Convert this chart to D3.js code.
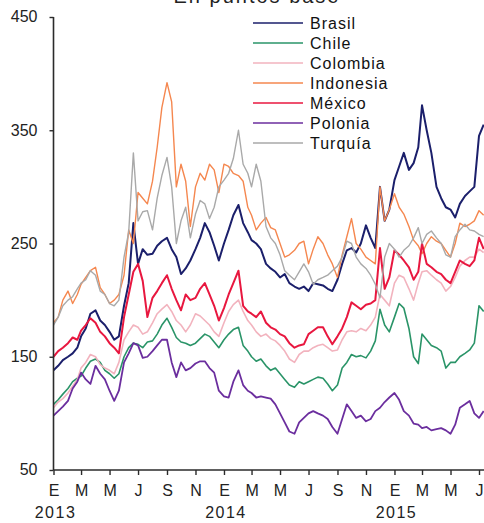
<!DOCTYPE html>
<html><head><meta charset="utf-8">
<script src="https://cdn.jsdelivr.net/npm/d3@7"></script>
<style>
html,body{margin:0;padding:0;background:#fff;}
svg{display:block;font-family:"Liberation Sans",Arial,sans-serif;}
</style></head>
<body><svg id="chart" width="484" height="523"></svg>
<script>
// ---- data (three readings per month: days 1, 11, 21; Jan 2013 – Jul 2015) ----
const seriesNames = ["Brasil","Chile","Colombia","Indonesia","México","Polonia","Turquía"];
const seriesColors = ["#1b1f6b","#2a9468","#f2b3be","#f5874f","#e8173f","#6b2e9e","#a9a9a9"];
const brasil = [138,142,147, 150,153,158, 168,175,188, 191,182,178, 172,165,168, 195,215,268,
  232,245,240, 241,248,252, 255,245,238, 223,228,235, 245,255,268, 260,248,235,
  250,262,275, 284,268,260, 253,250,245, 232,228,225, 220,223,215, 212,210,212,
  208,215,214, 213,210,208, 218,232,244, 246,242,250, 266,255,246, 300,270,280,
  306,318,330, 315,321,335, 372,350,330, 300,290,282, 280,273,285, 292,296,300, 345,355];
const chile = [108,112,117, 122,128,131, 133,140,146, 148,145,138, 135,131,135, 150,158,162,
  161,158,163, 164,170,178, 184,176,167, 163,162,160, 162,166,170, 168,163,158,
  165,170,174, 176,160,155, 150,146,148, 142,138,140, 135,130,125, 123,128,126,
  128,130,132, 131,126,120, 125,140,145, 152,150,151, 149,155,164, 192,178,172,
  185,197,193, 175,150,144, 170,165,160, 158,155,140, 145,145,150, 153,156,162, 195,190];
const colombia = [105,110,113, 118,124,130, 140,145,152, 150,143,140, 138,135,145, 165,172,178,
  176,170,172, 180,188,192, 196,190,182, 178,172,178, 188,186,182, 178,172,168,
  180,190,196, 200,190,182, 178,172,168, 170,166,164, 160,155,148, 145,152,155,
  155,158,160, 161,158,155, 156,165,172, 173,172,175, 173,178,185, 205,200,195,
  215,222,220, 210,200,215, 225,226,222, 218,215,208, 212,220,230, 235,238,238, 245,242];
const indonesia = [180,185,200, 208,197,205, 214,220,226, 229,211,205, 197,200,205, 222,262,250,
  295,290,285, 305,335,370, 392,375,300, 320,305,265, 300,312,306, 320,315,295,
  320,318,312, 310,305,282, 275,262,268, 273,264,262, 250,238,240, 244,250,252,
  232,245,256, 250,240,232, 220,240,256, 272,250,245, 238,235,232, 300,270,280,
  294,282,276, 265,253,248, 241,250,256, 252,250,244, 238,250,268, 265,267,270, 279,275];
const mexico = [150,155,158, 162,167,165, 173,178,184, 180,172,168, 162,158,153, 185,205,225,
  232,217,185, 202,208,215, 222,210,200, 191,205,200, 202,210,215, 205,195,182,
  193,205,215, 226,195,190, 188,185,190, 180,176,174, 170,168,162, 158,160,161,
  170,173,176, 176,168,161, 168,175,185, 198,195,192, 196,197,200, 246,210,220,
  244,240,235, 229,218,225, 250,232,229, 225,223,218, 215,225,235, 232,230,235, 255,245];
const polonia = [98,102,106, 111,122,128, 136,130,126, 142,135,130, 120,111,120, 145,153,162,
  160,149,150, 155,160,165, 165,145,132, 145,138,140, 144,146,146, 140,136,120,
  115,114,128, 138,125,120, 118,114,115, 114,113,108, 100,92,84, 82,92,96,
  100,102,100, 98,95,88, 82,95,108, 102,96,98, 93,95,102, 105,110,114,
  118,112,102, 98,91,90, 87,88,85, 86,87,85, 82,90,105, 108,111,100, 96,102];
const turquia = [178,185,195, 200,203,210, 215,218,226, 222,208,205, 197,195,200, 238,260,330,
  270,278,279, 262,290,310, 326,300,250, 270,282,255, 276,288,285, 272,282,300,
  306,312,325, 350,320,312, 300,320,305, 265,255,250, 240,226,222, 218,225,232,
  225,214,218, 220,222,226, 230,238,252, 250,238,232, 228,222,214, 202,238,250,
  245,238,244, 248,255,264, 250,258,261, 255,250,240, 238,256,262, 267,262,261, 258,256];
const yTicks = [50,150,250,350,450];
const monthLetters = ["E","M","M","J","S","N"];
const yearLabels = ["2013","2014","2015"];
const titleText = "En puntos base";

const seriesValues = [brasil, chile, colombia, indonesia, mexico, polonia, turquia];
const dayOfMonth = [1, 11, 21];
const dates = d3.range(brasil.length).map(k => new Date(2013, Math.floor(k/3), dayOfMonth[k%3]));

// ---- layout ----
const svg = d3.select("#chart");
const x = d3.scaleTime().domain([new Date(2013,0,1), new Date(2015,6,1)]).range([53.5, 479]);
const y = d3.scaleLinear().domain([50,450]).range([470, 17]);

// title (cropped at top in reference)
svg.append("text").attr("x", 257).attr("y", 3).attr("text-anchor","middle")
  .attr("font-size", 20).attr("letter-spacing", 2).attr("fill","#222").text(titleText);

// lines
const line = d3.line().x((d,i) => x(dates[i])).y(d => y(d)).curve(d3.curveLinear);
const widths = [2, 1.6, 1.6, 1.4, 2, 1.8, 1.4];
seriesValues.forEach((vals, si) => {
  svg.append("path").datum(vals).attr("d", line)
    .attr("fill","none").attr("stroke", seriesColors[si])
    .attr("stroke-width", widths[si]).attr("stroke-linejoin","round");
});

// axes
const axisColor = "#2b2b2b";
const yAxis = svg.append("g").attr("transform","translate(53.5,0)")
  .call(d3.axisLeft(y).tickValues(yTicks).tickSize(4).tickPadding(12));
yAxis.select(".domain").attr("stroke", axisColor).attr("stroke-width",1.6).attr("d","M0,17V470");
yAxis.selectAll(".tick line").attr("stroke", axisColor).attr("stroke-width",1.4);
yAxis.selectAll(".tick text").attr("font-size",16).attr("fill","#222")
  .attr("font-family","'Liberation Sans',Arial,sans-serif").attr("dy","0.3em");

const monthTicks = d3.timeMonth.every(2).range(new Date(2013,0,1), new Date(2015,6,2));
const xAxis = svg.append("g").attr("transform","translate(0,470)")
  .call(d3.axisBottom(x).tickValues(monthTicks).tickSize(5).tickPadding(10)
    .tickFormat((d) => monthLetters[d.getMonth()/2]));
xAxis.select(".domain").attr("stroke", axisColor).attr("stroke-width",1.6).attr("d","M53.5,0H484");
xAxis.selectAll(".tick line").attr("stroke", axisColor).attr("stroke-width",1.4);
xAxis.selectAll(".tick text").attr("font-size",16).attr("fill","#222")
  .attr("font-family","'Liberation Sans',Arial,sans-serif");

yearLabels.forEach((yl, i) => {
  svg.append("text").attr("x", x(new Date(2013 + i, 0, 1)) + 2).attr("y", 518)
    .attr("text-anchor","middle").attr("font-size",16).attr("letter-spacing",1.5)
    .attr("fill","#222").text(yl);
});

// legend
const lg = svg.append("g");
seriesNames.forEach((name, i) => {
  const ly = 23 + i*20;
  lg.append("line").attr("x1",253).attr("x2",303).attr("y1",ly).attr("y2",ly)
    .attr("stroke", seriesColors[i]).attr("stroke-width", 1.6);
  lg.append("text").attr("x",310).attr("y",ly).attr("dy","0.36em")
    .attr("font-size",16).attr("letter-spacing",1).attr("fill","#111").text(name);
});
</script></body></html>
